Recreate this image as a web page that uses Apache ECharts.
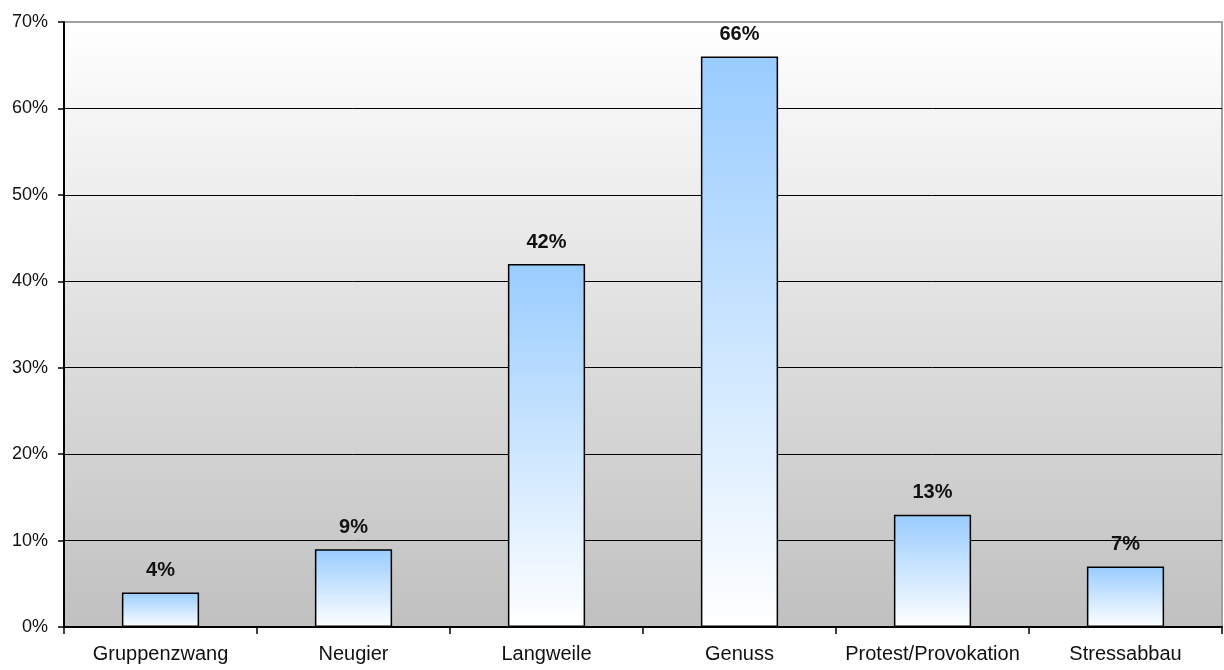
<!DOCTYPE html>
<html>
<head>
<meta charset="utf-8">
<script src="https://cdn.jsdelivr.net/npm/echarts@6/dist/echarts.min.js"></script>
<style>
  html, body { margin: 0; padding: 0; background: #ffffff; }
  #chart { width: 1224px; height: 670px; }
</style>
</head>
<body>
<div id="chart"></div>
<script>
// Motive (share of respondents, %)
const categories = ['Gruppenzwang', 'Neugier', 'Langweile', 'Genuss', 'Protest/Provokation', 'Stressabbau'];
const shares = [4, 9, 42, 66, 13, 7];
const yTicks = { min: 0, max: 70, interval: 10 };

const FONT = 'Liberation Sans, Arial, sans-serif';

const chart = echarts.init(document.getElementById('chart'), null, { renderer: 'canvas' });

chart.setOption({
  animation: false,
  grid: {
    left: 64, right: 2, top: 22, bottom: 43,
    show: true,
    borderColor: '#a0a0a0',
    borderWidth: 2,
    backgroundColor: new echarts.graphic.LinearGradient(0, 0, 0, 1, [
      { offset: 0, color: '#ffffff' },
      { offset: 1, color: '#c0c0c0' }
    ])
  },
  xAxis: {
    type: 'category',
    data: categories,
    boundaryGap: true,
    axisLine: { lineStyle: { color: '#000', width: 2 } },
    axisTick: { show: true, alignWithLabel: false, length: 7, lineStyle: { color: '#000', width: 1.5 } },
    axisLabel: { color: '#111', fontFamily: FONT, fontSize: 20, margin: 17, interval: 0 },
    splitLine: { show: false }
  },
  yAxis: {
    type: 'value',
    min: yTicks.min, max: yTicks.max, interval: yTicks.interval,
    axisLine: { show: true, lineStyle: { color: '#000', width: 2 } },
    axisTick: { show: true, length: 6, lineStyle: { color: '#000', width: 1.5 } },
    axisLabel: { color: '#111', fontFamily: FONT, fontSize: 18, margin: 16, formatter: '{value}%' },
    splitLine: { show: true, showMinLine: false, showMaxLine: false, lineStyle: { color: '#000', width: 1 } }
  },
  series: [{
    type: 'bar',
    data: shares,
    barWidth: '40%',
    itemStyle: {
      color: new echarts.graphic.LinearGradient(0, 0, 0, 1, [
        { offset: 0, color: '#99ccff' },
        { offset: 1, color: '#ffffff' }
      ]),
      borderColor: '#000',
      borderWidth: 1.5
    },
    label: {
      show: true,
      position: 'top',
      distance: 12,
      color: '#111',
      fontFamily: FONT,
      fontWeight: 'bold',
      fontSize: 20,
      formatter: '{c}%'
    }
  }]
});
</script>
</body>
</html>
